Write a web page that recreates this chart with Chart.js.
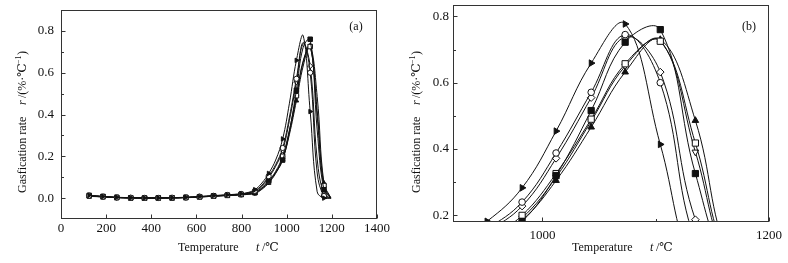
<!DOCTYPE html>
<html><head><meta charset="utf-8">
<script src="https://cdn.jsdelivr.net/npm/chart.js@4.4.0/dist/chart.umd.min.js"></script>
<style>
html,body{margin:0;padding:0;background:#fff;}
body{width:788px;height:263px;overflow:hidden;position:relative;}
canvas{position:absolute;top:0;}
#ca{left:0;} #cb{left:394px;}
</style></head>
<body>
<canvas id="ca" width="394" height="263"></canvas>
<canvas id="cb" width="394" height="263"></canvas>
<script>
// ---------- data ----------
const temperatures = [125,156,186,217,247,278,309,339,370,400,431,462,492,523,553,584,614,645,676,706,737,767,798,829,859,890,920,951,982,1012,1043,1073,1104,1135,1165,1196];

const rightTriValues = [0.014,0.011,0.008,0.006,0.004,0.003,0.002,0.002,0.001,0.001,0.001,0.002,0.002,0.003,0.004,0.006,0.008,0.010,0.012,0.014,0.016,0.018,0.021,0.027,
  0.040,0.072,0.118,0.182,0.283,0.454,0.659,0.777,0.414,0.030,0.000,0.000];
const openCircleValues = [0.012,0.010,0.007,0.005,0.003,0.002,0.002,0.001,0.001,0.001,0.001,0.001,0.002,0.002,0.003,0.005,0.007,0.009,0.011,0.013,0.015,0.017,0.020,0.025,
  0.035,0.062,0.105,0.160,0.240,0.388,0.571,0.745,0.600,0.120,0.010,0.000];
const filledSquareValues = [0.013,0.010,0.008,0.005,0.003,0.002,0.001,0.001,0.000,0.000,0.001,0.001,0.001,0.002,0.003,0.004,0.006,0.008,0.010,0.012,0.014,0.016,0.018,0.022,
  0.028,0.050,0.085,0.122,0.182,0.320,0.516,0.722,0.760,0.326,0.040,0.000];
const openSquareValues = [0.010,0.008,0.006,0.004,0.003,0.002,0.001,0.001,0.000,0.000,0.000,0.001,0.001,0.002,0.003,0.004,0.006,0.008,0.010,0.012,0.013,0.015,0.017,0.020,
  0.026,0.048,0.080,0.128,0.200,0.326,0.490,0.657,0.725,0.418,0.060,0.000];
const filledTriValues = [0.008,0.007,0.005,0.004,0.002,0.001,0.001,0.000,0.000,0.000,0.000,0.000,0.001,0.001,0.002,0.003,0.005,0.007,0.009,0.010,0.012,0.013,0.015,0.018,
  0.022,0.042,0.072,0.118,0.185,0.305,0.466,0.632,0.730,0.486,0.072,0.000];
const openTriDownValues = [0.009,0.008,0.006,0.004,0.003,0.002,0.001,0.001,0.000,0.000,0.000,0.001,0.001,0.002,0.003,0.004,0.006,0.007,0.009,0.011,0.013,0.014,0.016,0.019,
  0.024,0.045,0.076,0.122,0.192,0.315,0.484,0.650,0.728,0.391,0.050,0.000];
const openDiamondValues = [0.011,0.009,0.007,0.005,0.003,0.002,0.002,0.001,0.001,0.001,0.001,0.001,0.002,0.002,0.003,0.005,0.007,0.008,0.010,0.012,0.014,0.016,0.019,0.023,
  0.032,0.058,0.098,0.152,0.228,0.372,0.555,0.738,0.632,0.187,0.020,0.000];

const xTicksA = [0,200,400,600,800,1000,1200,1400];
const yTicksA = [0.0,0.2,0.4,0.6,0.8];
const yMinorA = [0.1,0.3,0.5,0.7];
const xTicksB = [1000,1200];
const xMinorB = [1100];
const yTicksB = [0.2,0.4,0.6,0.8];
const yMinorB = [0.3,0.5,0.7];

// ---------- styles ----------
const seriesList = [
  {values: rightTriValues,    style:'triangle', rot:90,  filled:true},
  {values: openCircleValues,  style:'circle',   rot:0,   filled:false},
  {values: filledSquareValues,style:'rect',     rot:0,   filled:true},
  {values: openSquareValues,  style:'rect',     rot:0,   filled:false},
  {values: filledTriValues,   style:'triangle', rot:0,   filled:true},
  {values: openTriDownValues, style:'triangle', rot:180, filled:false},
  {values: openDiamondValues, style:'rectRot',  rot:0,   filled:false}
];
const INK = '#111';
const SERIF = '"Liberation Serif","DejaVu Serif",serif';

function makeDatasets(panel){
  return seriesList.map(s => ({
    data: temperatures.map((t,i) => ({x:t, y:s.values[i]})),
    borderColor: INK, borderWidth: 1, tension: 0.4,
    pointStyle: s.style, pointRotation: s.rot,
    pointBackgroundColor: s.filled ? INK : '#fff',
    pointBorderColor: INK, pointBorderWidth: 1,
    pointRadius: panel === 'a'
      ? (c => c.dataIndex % 2 === 0 ? (s.style==='rect'?3.2:2.6) : 0)
      : (s.style==='rect' ? 4.4 : (s.style==='circle' ? 3.3 : 3.8)),
    pointHoverRadius: 0
  }));
}

function drawSegs(ctx, segs, x, y, rotate){
  ctx.save();
  ctx.translate(x, y);
  if (rotate) ctx.rotate(-Math.PI/2);
  ctx.fillStyle = INK;
  ctx.textBaseline = 'middle';
  ctx.textAlign = 'left';
  segs.forEach(s => {
    ctx.font = s.font;
    ctx.fillText(s.t, s.at, s.dy || 0);
  });
  ctx.restore();
}

const decoPlugin = {
  id: 'deco',
  afterDraw(chart, args, o){
    const ctx = chart.ctx, ca = chart.chartArea;
    const xs = chart.scales.x, ys = chart.scales.y;
    ctx.save();
    ctx.strokeStyle = '#333';
    ctx.lineWidth = 1;
    const L = Math.round(ca.left)+0.5, R = Math.round(ca.right)-0.5, T = Math.round(ca.top)+0.5, B = Math.round(ca.bottom)-0.5;
    ctx.strokeRect(L, T, R-L, B-T);
    ctx.beginPath();
    o.xMajor.forEach(v => { const p = Math.round(xs.getPixelForValue(v))+0.5; ctx.moveTo(p,B); ctx.lineTo(p,B-4); });
    (o.xMinor||[]).forEach(v => { const p = Math.round(xs.getPixelForValue(v))+0.5; ctx.moveTo(p,B); ctx.lineTo(p,B-2.5); });
    o.yMajor.forEach(v => { const p = Math.round(ys.getPixelForValue(v))+0.5; ctx.moveTo(L,p); ctx.lineTo(L+4,p); });
    (o.yMinor||[]).forEach(v => { const p = Math.round(ys.getPixelForValue(v))+0.5; ctx.moveTo(L,p); ctx.lineTo(L+2.5,p); });
    ctx.stroke();
    ctx.restore();
    const f = '12px ' + SERIF, fi = 'italic 12px ' + SERIF, fs = '8px ' + SERIF;
    drawSegs(ctx, [
      {t:'Gasfication rate', font:f, at:0},
      {t:'r', font:fi, at:88},
      {t:'/(%·℃', font:f, at:95},
      {t:'−1', font:fs, at:129, dy:-4},
      {t:')', font:f, at:138}
    ], o.yTitleX, 193, true);
    drawSegs(ctx, [
      {t:'Temperature', font:f, at:0},
      {t:'t', font:fi, at:78},
      {t:'/℃', font:f, at:84}
    ], o.xTitleX, 248, false);
    ctx.save();
    ctx.font = f; ctx.fillStyle = INK; ctx.textAlign='center'; ctx.textBaseline='middle';
    ctx.fillText(o.tag, o.tagX, 27);
    ctx.restore();
  }
};

function scaleCommon(ticksArr, fmt, pad, fitFn){
  return {
    type:'linear',
    grid:{display:false, drawTicks:false},
    border:{display:false},
    afterBuildTicks: s => { s.ticks = ticksArr.map(v => ({value:v})); },
    afterFit: s => { fitFn(s); s.paddingTop=0; s.paddingBottom=0; s.paddingLeft=0; s.paddingRight=0; },
    ticks:{ font:{family:SERIF, size:13}, color:INK, padding:pad, maxRotation:0, autoSkip:false, callback: fmt }
  };
}

function makeChart(id, panel, cfg){
  const xs = scaleCommon(cfg.xTicks, v => String(v), cfg.xPad, s => { s.height = cfg.xH; });
  xs.min = cfg.xMin; xs.max = cfg.xMax;
  const ys = scaleCommon(cfg.yTicks, v => Number(v).toFixed(1), cfg.yPad, s => { s.width = cfg.yW; });
  ys.min = cfg.yMin; ys.max = cfg.yMax;
  return new Chart(document.getElementById(id), {
    type:'line',
    data:{datasets: makeDatasets(panel)},
    options:{
      responsive:false, animation:false, events:[],
      layout:{padding:{left:0, right:cfg.padR, top:cfg.padT, bottom:0}},
      plugins:{legend:{display:false}, tooltip:{enabled:false}, deco:cfg.deco},
      scales:{x:xs, y:ys}
    },
    plugins:[decoPlugin]
  });
}

makeChart('ca', 'a', {
  xTicks:xTicksA, yTicks:yTicksA, xMin:0, xMax:1400, yMin:-0.1, yMax:0.9,
  xH:44, yW:61, padR:17, padT:10, xPad:2, yPad:7,
  deco:{xMajor:xTicksA, yMajor:yTicksA, yMinor:yMinorA, yTitleX:23, xTitleX:178, tag:'(a)', tagX:356}
});
makeChart('cb', 'b', {
  xTicks:xTicksB, yTicks:yTicksB, xMin:921, xMax:1200, yMin:0.18, yMax:0.833,
  xH:41, yW:59, padR:19, padT:5, xPad:6, yPad:4,
  deco:{xMajor:xTicksB, xMinor:xMinorB, yMajor:yTicksB, yMinor:yMinorB, yTitleX:23, xTitleX:178, tag:'(b)', tagX:355}
});
</script>
</body></html>
